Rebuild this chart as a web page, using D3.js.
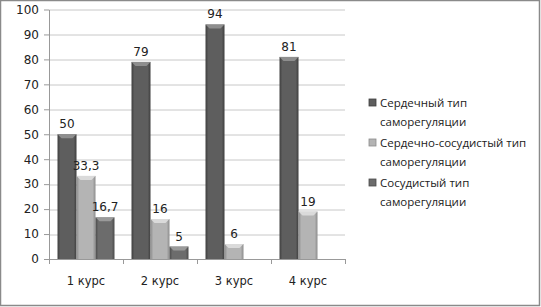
<!DOCTYPE html>
<html>
<head>
<meta charset="utf-8">
<script src="https://cdn.jsdelivr.net/npm/d3@7"></script>
<style>
  body { margin: 0; background: #fff; }
  svg { display: block; }
</style>
</head>
<body>
<svg id="chart" width="541" height="307"></svg>
<script>
// Chart data
const categories = ["1 курс", "2 курс", "3 курс", "4 курс"];
const seriesNames = [
    ["Сердечный тип", "саморегуляции"],
    ["Сердечно-сосудистый тип", "саморегуляции"],
    ["Сосудистый тип", "саморегуляции"]
];
const cardiac = [50, 79, 94, 81];
const cardioVascular = [33.3, 16, 6, 19];
const vascular = [16.7, 5, null, null];
const yTicks = [0, 10, 20, 30, 40, 50, 60, 70, 80, 90, 100];

const seriesValues = [cardiac, cardioVascular, vascular];
const colors = [
    { mid: "#5e5e5e", edge: "#3e3e3e", top: "#9a9a9a" },
    { mid: "#b4b4b4", edge: "#8c8c8c", top: "#e4e4e4" },
    { mid: "#6c6c6c", edge: "#4a4a4a", top: "#a6a6a6" }
];

const svg = d3.select("#chart");
const margin = { top: 9.5, left: 49, right: 196, bottom: 48 };
const width = 541 - margin.left - margin.right;
const height = 307 - margin.top - margin.bottom;

// outer frame
svg.append("rect")
    .attr("x", 0.5).attr("y", 0.5)
    .attr("width", 539).attr("height", 305)
    .attr("fill", "none")
    .attr("stroke", "#8a8a8a")
    .attr("stroke-width", 1.5);

// gradients for the bevelled bars
const defs = svg.append("defs");
colors.forEach((c, i) => {
    const g = defs.append("linearGradient").attr("id", "grad" + i)
        .attr("x1", "0%").attr("x2", "100%").attr("y1", "0%").attr("y2", "0%");
    g.append("stop").attr("offset", "0%").attr("stop-color", c.edge);
    g.append("stop").attr("offset", "15%").attr("stop-color", c.mid);
    g.append("stop").attr("offset", "85%").attr("stop-color", c.mid);
    g.append("stop").attr("offset", "100%").attr("stop-color", c.edge);
});

const chart = svg.append("g")
    .attr("transform", `translate(${margin.left},${margin.top})`);

const x0 = d3.scaleBand()
    .domain(categories)
    .range([0, width])
    .paddingInner(0.23)
    .paddingOuter(0.115);

const x1 = d3.scaleBand()
    .domain(d3.range(seriesValues.length))
    .range([0, x0.bandwidth()]);

const y = d3.scaleLinear()
    .domain([0, 100])
    .range([height, 0]);

// gridlines
chart.append("g")
    .selectAll("line")
    .data(yTicks.filter(t => t > 0))
    .enter().append("line")
    .attr("x1", 0).attr("x2", width)
    .attr("y1", d => Math.round(y(d)) + 0.5)
    .attr("y2", d => Math.round(y(d)) + 0.5)
    .attr("stroke", "#c8c8c8");

// y axis
const yAxis = chart.append("g")
    .call(d3.axisLeft(y).tickValues(yTicks).tickSize(5).tickSizeOuter(0).tickPadding(5));
yAxis.select(".domain").attr("stroke", "#999");
yAxis.selectAll(".tick line").attr("stroke", "#999");
yAxis.selectAll("text")
    .style("font-family", "DejaVu Sans")
    .style("font-size", "12px")
    .attr("fill", "#222");

// x axis
const step = width / categories.length;
const xAxis = chart.append("g")
    .attr("transform", `translate(0,${height})`);
xAxis.append("line")
    .attr("x1", 0).attr("x2", width)
    .attr("y1", 0.5).attr("y2", 0.5)
    .attr("stroke", "#999");
xAxis.selectAll(".sep")
    .data(d3.range(categories.length + 1))
    .enter().append("line")
    .attr("x1", d => Math.round(d * step) + 0.5)
    .attr("x2", d => Math.round(d * step) + 0.5)
    .attr("y1", 0).attr("y2", 5)
    .attr("stroke", "#999");
xAxis.selectAll(".lbl")
    .data(categories)
    .enter().append("text")
    .attr("x", d => x0(d) + x0.bandwidth() / 2)
    .attr("y", 26)
    .attr("text-anchor", "middle")
    .style("font-family", "DejaVu Sans")
    .style("font-size", "11.5px")
    .attr("fill", "#222")
    .text(d => d);

// bars
const bars = [];
categories.forEach((cat, ci) => {
    seriesValues.forEach((vals, si) => {
        if (vals[ci] != null) bars.push({ cat, si, value: vals[ci] });
    });
});

const barG = chart.selectAll(".bar")
    .data(bars)
    .enter().append("g")
    .attr("transform", d => `translate(${x0(d.cat) + x1(d.si)},0)`);

barG.append("rect")
    .attr("x", 0)
    .attr("y", d => y(d.value))
    .attr("width", x1.bandwidth())
    .attr("height", d => height - y(d.value))
    .attr("fill", d => `url(#grad${d.si})`);

// top bevel
barG.append("path")
    .attr("d", d => {
        const w = x1.bandwidth(), t = y(d.value), b = 4;
        return `M0,${t}L${w},${t}L${w - b},${t + b}L${b},${t + b}Z`;
    })
    .attr("fill", d => colors[d.si].top)
    .attr("opacity", 0.8);

// value labels
barG.append("text")
    .attr("x", x1.bandwidth() / 2 + 0)
    .attr("y", d => y(d.value) - 6)
    .attr("text-anchor", "middle")
    .style("font-family", "DejaVu Sans")
    .style("font-size", "12px")
    .attr("fill", "#222")
    .text(d => String(d.value).replace(".", ","));

// legend
const legend = svg.append("g").attr("transform", "translate(369,0)");
seriesNames.forEach((lines, i) => {
    const gy = 103 + i * 40;
    legend.append("rect")
        .attr("x", 0).attr("y", gy - 4)
        .attr("width", 7).attr("height", 7)
        .attr("fill", colors[i].mid)
        .attr("stroke", colors[i].edge)
        .attr("stroke-width", 0.8);
    lines.forEach((ln, li) => {
        legend.append("text")
            .attr("x", 11)
            .attr("y", gy + 4 + li * 19)
            .style("font-family", "Open Sans")
            .style("font-size", "11.5px")
            .attr("fill", "#222")
            .text(ln);
    });
});
</script>
</body>
</html>
